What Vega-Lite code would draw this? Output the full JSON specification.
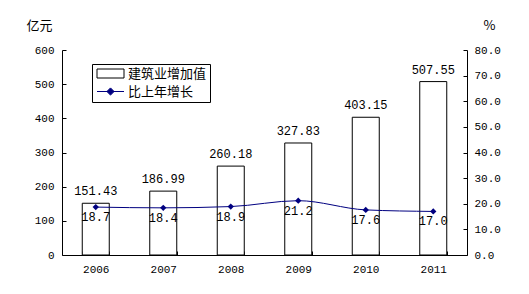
{
  "$schema": "https://vega.github.io/schema/vega-lite/v6.json",
  "width": 405,
  "height": 205,
  "autosize": {"type": "none"},
  "padding": {"left": 62, "top": 50, "right": 62, "bottom": 39},
  "background": "white",
  "config": {
    "view": {"stroke": null},
    "axis": {
      "domainColor": "black",
      "tickColor": "black",
      "labelColor": "black",
      "grid": false,
      "labelFont": "Liberation Mono",
      "labelFontSize": 11,
      "titleFont": "Noto Sans CJK SC",
      "titleFontSize": 13,
      "titleFontWeight": "normal",
      "titleColor": "black"
    }
  },
  "data": {
    "values": [
      {"year": "2006", "v": 151.43, "g": 18.7, "s1": "建筑业增加值", "s2": "比上年增长"},
      {"year": "2007", "v": 186.99, "g": 18.4, "s1": "建筑业增加值", "s2": "比上年增长"},
      {"year": "2008", "v": 260.18, "g": 18.9, "s1": "建筑业增加值", "s2": "比上年增长"},
      {"year": "2009", "v": 327.83, "g": 21.2, "s1": "建筑业增加值", "s2": "比上年增长"},
      {"year": "2010", "v": 403.15, "g": 17.6, "s1": "建筑业增加值", "s2": "比上年增长"},
      {"year": "2011", "v": 507.55, "g": 17.0, "s1": "建筑业增加值", "s2": "比上年增长"}
    ]
  },
  "encoding": {
    "x": {
      "field": "year",
      "type": "nominal",
      "scale": {"paddingInner": 0.6, "paddingOuter": 0.3},
      "axis": {
        "title": null,
        "labelAngle": 0,
        "tickBand": "extent",
        "tickSize": -4,
        "labelPadding": 12
      }
    }
  },
  "layer": [
    {
      "encoding": {
        "y": {
          "field": "v",
          "type": "quantitative",
          "scale": {"domain": [0, 600]},
          "axis": {
            "title": "亿元",
            "values": [0, 100, 200, 300, 400, 500, 600],
            "labelOverlap": false,
            "tickSize": -4,
            "labelPadding": 12,
            "titleAngle": 0,
            "titleX": -23,
            "titleY": -25,
            "titleAlign": "center",
            "titleBaseline": "middle"
          }
        }
      },
      "layer": [
        {
          "mark": {"type": "bar", "stroke": "black", "strokeWidth": 1},
          "encoding": {
            "fill": {
              "field": "s1",
              "type": "nominal",
              "scale": {"domain": ["建筑业增加值", "比上年增长"], "range": ["white", "#000080"]},
              "legend": {
                "title": null,
                "orient": "none",
                "legendX": 30,
                "legendY": 14,
                "strokeColor": "black",
                "fillColor": "white",
                "padding": 3,
                "rowPadding": 4,
                "symbolSize": 81,
                "labelOffset": 20,
                "labelFont": "Noto Sans CJK SC",
                "labelFontSize": 13,
                "labelColor": "black",
                "symbolStrokeWidth": 1,
                "symbolType": {"expr": "datum.value === '建筑业增加值' ? 'M-1,-1H5V1H-1Z' : 'M-1,0H5M2,-0.8L2.8,0L2,0.8L1.2,0Z'"},
                "symbolStrokeColor": {"expr": "datum.value === '建筑业增加值' ? 'black' : '#000080'"}
              }
            }
          }
        },
        {
          "mark": {"type": "text", "baseline": "bottom", "dy": -5, "font": "Liberation Mono", "fontSize": 12, "color": "black"},
          "encoding": {
            "text": {"field": "v", "type": "quantitative", "format": ".2f"}
          }
        }
      ]
    },
    {
      "encoding": {
        "y": {
          "field": "g",
          "type": "quantitative",
          "scale": {"domain": [0, 80]},
          "axis": {
            "orient": "right",
            "title": "%",
            "values": [0, 10, 20, 30, 40, 50, 60, 70, 80],
            "labelOverlap": false,
            "format": ".1f",
            "tickSize": -4,
            "labelPadding": 11,
            "titleAngle": 0,
            "titleX": 22,
            "titleY": -25,
            "titleAlign": "center",
            "titleBaseline": "middle"
          }
        }
      },
      "layer": [
        {
          "mark": {"type": "line", "color": "#000080", "strokeWidth": 1, "interpolate": "monotone"}
        },
        {
          "mark": {"type": "point", "shape": "diamond", "filled": true, "size": 40, "opacity": 1},
          "encoding": {
            "fill": {"field": "s2", "type": "nominal"}
          }
        },
        {
          "mark": {"type": "text", "baseline": "top", "dy": 5, "font": "Liberation Mono", "fontSize": 12, "color": "black"},
          "encoding": {
            "text": {"field": "g", "type": "quantitative", "format": ".1f"}
          }
        }
      ]
    }
  ],
  "resolve": {"scale": {"y": "independent"}}
}
